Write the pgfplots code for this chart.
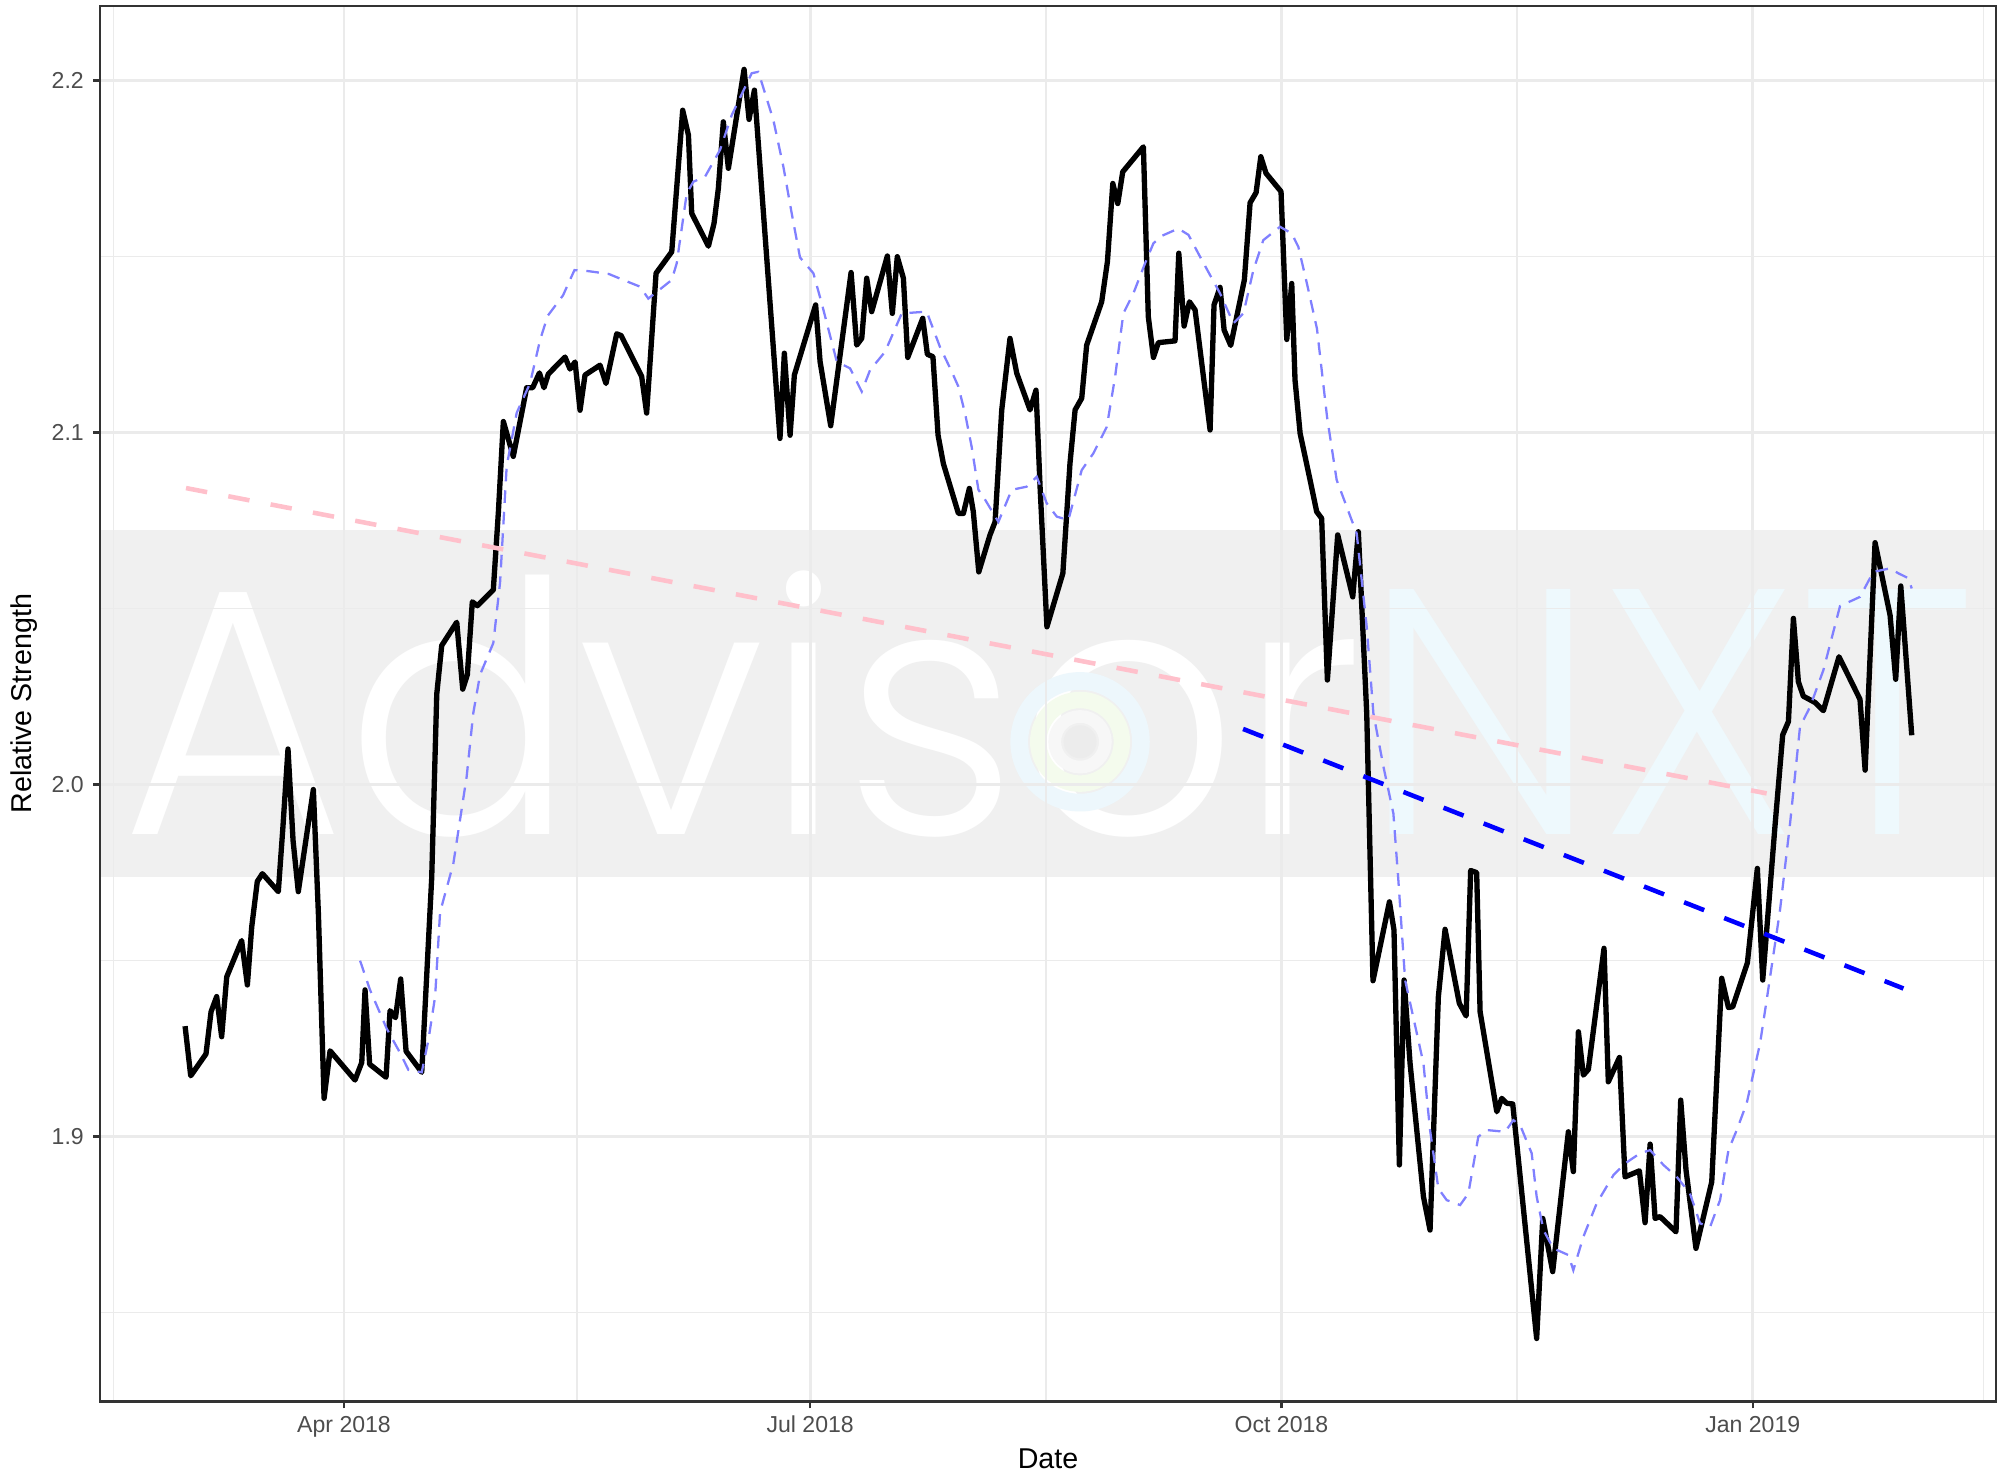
\documentclass[border=0pt]{standalone}
\usepackage{fontspec}
\setmainfont{Liberation Sans}
\IfFontExistsTF{Poppins Light}{\newfontfamily\wmfont{Poppins Light}}{\newfontfamily\wmfont{Liberation Sans}}
\usepackage{graphicx}
\usepackage{pgfplots}
\usepackage{pgfplotstable}
\pgfplotsset{compat=1.18}

\definecolor{grid92}{RGB}{235,235,235}
\definecolor{grey20}{RGB}{51,51,51}
\definecolor{grey30}{RGB}{77,77,77}
\definecolor{bandgray}{RGB}{240,240,240}
\definecolor{nxtcyan}{RGB}{238,249,253}
\definecolor{logocyan}{RGB}{237,247,252}
\definecolor{logogreen}{RGB}{244,251,237}
\definecolor{logogray}{RGB}{247,247,247}
\definecolor{logodot}{RGB}{236,236,236}
\definecolor{maBlue}{RGB}{128,128,255}
\definecolor{pinkc}{RGB}{255,192,203}

% Relative strength (x = days since 2018-01-01)
\pgfplotstableread{
d v
58.97 1.9314
60.07 1.9173
63.05 1.9235
64.04 1.9355
65.14 1.9398
66.11 1.9284
67.10 1.9454
70.01 1.9557
71.13 1.9431
71.98 1.9596
73.07 1.9725
74.06 1.9747
77.17 1.9696
78.04 1.9873
79.06 2.0101
80.05 1.9841
81.07 1.9696
84.01 1.9986
85.00 1.9631
86.10 1.9109
87.27 1.9244
92.14 1.9161
93.46 1.9211
94.10 1.9417
95.00 1.9206
98.20 1.9169
98.98 1.9358
100.04 1.9338
101.06 1.9448
102.11 1.9243
105.17 1.9183
107.11 1.9734
108.10 2.0257
109.07 2.0395
112.00 2.0461
113.17 2.0271
114.07 2.0312
115.04 2.0519
116.03 2.0508
119.14 2.0553
120.13 2.0774
121.10 2.1031
123.04 2.0932
125.65 2.1127
126.82 2.1127
128.14 2.1169
129.03 2.1127
129.88 2.1166
133.14 2.1214
134.11 2.1180
135.10 2.1200
136.07 2.1063
137.04 2.1163
139.97 2.1191
141.14 2.1139
143.23 2.1280
144.10 2.1275
148.10 2.1159
149.07 2.1055
150.91 2.1452
153.97 2.1513
156.11 2.1915
157.23 2.1844
157.87 2.1622
161.13 2.1529
162.23 2.1594
163.07 2.1693
164.04 2.1882
165.03 2.1750
168.09 2.2031
169.06 2.1889
170.11 2.1972
175.10 2.0983
175.95 2.1225
177.07 2.0992
177.91 2.1163
182.06 2.1362
182.93 2.1201
185.00 2.1019
188.98 2.1454
190.07 2.1248
191.06 2.1267
192.03 2.1438
193.00 2.1343
196.06 2.1501
197.03 2.1338
198.00 2.1499
199.19 2.1438
200.04 2.1213
202.97 2.1324
203.87 2.1222
204.96 2.1215
205.96 2.0992
207.00 2.0911
209.93 2.0770
210.90 2.0770
212.07 2.0841
212.84 2.0775
213.91 2.0604
216.10 2.0709
217.09 2.0746
218.39 2.1064
220.00 2.1267
221.32 2.1168
223.91 2.1064
225.08 2.1120
225.87 2.0846
227.21 2.0448
230.32 2.0600
231.71 2.0912
232.71 2.1064
234.00 2.1097
234.97 2.1248
237.90 2.1371
239.02 2.1485
240.07 2.1707
241.04 2.1650
242.01 2.1740
246.04 2.1811
247.00 2.1329
248.00 2.1213
248.97 2.1255
252.22 2.1260
252.95 2.1509
253.99 2.1302
255.03 2.1371
256.13 2.1348
259.06 2.1007
259.83 2.1362
261.00 2.1412
261.80 2.1291
263.09 2.1247
265.75 2.1433
266.87 2.1652
268.04 2.1681
268.96 2.1783
269.98 2.1736
272.91 2.1684
274.03 2.1264
275.00 2.1423
275.64 2.1149
276.64 2.0997
278.58 2.0865
279.87 2.0775
280.84 2.0756
281.96 2.0297
283.97 2.0709
286.91 2.0533
288.00 2.0718
289.64 2.0202
290.86 1.9443
294.07 1.9667
294.96 1.9587
296.01 1.8920
296.93 1.9445
298.10 1.9208
300.71 1.8830
302.00 1.8735
303.62 1.9397
304.93 1.9589
307.71 1.9379
309.04 1.9343
309.93 1.9756
311.10 1.9750
311.77 1.9355
315.03 1.9071
316.00 1.9109
316.97 1.9095
318.14 1.9093
322.81 1.8427
324.00 1.8768
325.94 1.8617
329.00 1.9014
329.97 1.8901
330.96 1.9298
331.93 1.9175
332.90 1.9191
335.96 1.9535
336.80 1.9156
338.97 1.9225
340.06 1.8886
342.87 1.8903
343.97 1.8756
344.96 1.8979
345.93 1.8768
346.90 1.8773
350.01 1.8730
350.93 1.9104
351.97 1.8905
353.91 1.8683
356.99 1.8872
358.93 1.9450
360.25 1.9367
361.09 1.9369
363.95 1.9494
365.89 1.9762
366.94 1.9445
369.35 1.9885
370.84 2.0141
371.96 2.0179
372.93 2.0472
373.90 2.0292
374.87 2.0251
377.16 2.0233
378.78 2.0210
381.83 2.0363
385.93 2.0242
386.93 2.0041
388.87 2.0687
391.80 2.0481
392.90 2.0299
393.89 2.0564
396.03 2.0140
}\rs

% Moving average
\pgfplotstableread{
d v
93.13 1.9500
95.07 1.9417
98.33 1.9307
100.94 1.9238
102.56 1.9190
105.17 1.9183
106.46 1.9274
107.78 1.9398
108.75 1.9638
111.33 1.9775
113.94 2.0023
115.23 2.0203
116.55 2.0312
119.14 2.0402
120.46 2.0574
121.75 2.0904
123.71 2.1056
126.30 2.1139
128.26 2.1262
129.75 2.1331
132.74 2.1389
134.98 2.1461
137.71 2.1458
141.69 2.1450
144.67 2.1432
147.78 2.1414
149.40 2.1380
153.97 2.1433
154.94 2.1480
156.90 2.1679
158.20 2.1712
160.46 2.1726
163.39 2.1802
165.68 2.1901
169.58 2.2020
170.88 2.2024
173.81 2.1887
175.77 2.1754
177.39 2.1622
179.01 2.1497
181.62 2.1452
183.26 2.1366
186.19 2.1201
188.78 2.1182
191.06 2.1116
192.68 2.1177
195.61 2.1229
198.87 2.1338
203.74 2.1343
206.35 2.1242
208.62 2.1173
209.93 2.1130
211.23 2.1054
212.52 2.0959
213.84 2.0837
214.81 2.0817
217.74 2.0746
220.33 2.0837
223.26 2.0846
225.23 2.0874
227.16 2.0799
229.13 2.0761
231.39 2.0751
234.00 2.0893
236.29 2.0941
238.90 2.1016
240.52 2.1158
242.13 2.1338
244.09 2.1395
246.36 2.1480
248.00 2.1537
249.61 2.1558
252.87 2.1579
254.84 2.1561
257.10 2.1499
261.00 2.1395
263.61 2.1310
265.57 2.1338
267.51 2.1461
269.45 2.1546
272.71 2.1584
275.00 2.1565
276.29 2.1527
277.93 2.1425
279.92 2.1295
281.91 2.1042
283.77 2.0865
287.68 2.0713
289.64 2.0448
290.94 2.0202
292.90 2.0051
294.84 1.9918
295.81 1.9729
297.13 1.9445
300.71 1.9208
302.00 1.9019
303.62 1.8853
305.25 1.8820
307.87 1.8806
309.48 1.8839
311.42 1.9000
313.06 1.9019
316.64 1.9014
318.26 1.9047
319.58 1.9033
321.84 1.8953
322.81 1.8830
324.13 1.8735
326.07 1.8683
329.00 1.8664
329.97 1.8621
331.93 1.8716
334.54 1.8811
337.80 1.8891
340.06 1.8924
343.00 1.8953
344.96 1.8962
347.55 1.8920
350.16 1.8886
352.74 1.8839
354.71 1.8754
356.67 1.8744
358.61 1.8820
360.25 1.8962
361.87 1.9019
363.81 1.9095
365.12 1.9180
366.42 1.9265
367.71 1.9388
370.32 1.9644
372.28 1.9890
374.22 2.0164
376.19 2.0221
378.78 2.0325
382.03 2.0507
385.93 2.0533
388.54 2.0604
391.80 2.0614
393.41 2.0600
395.38 2.0586
396.03 2.0557
}\ma

\pgfplotsset{
  base/.style={
    scale only axis, width=748.2pt, height=550.7pt,
    xmin=42.36, xmax=412.48, ymin=1.82481, ymax=2.2211,
    at={(0,0)}, anchor=south west,
  }
}

\begin{document}
\begin{tikzpicture}
% background: watermark band
\begin{axis}[base, hide axis, clip=false]
  \fill[bandgray] (axis cs:42.36,1.97385) rectangle (axis cs:412.48,2.0723);
  \node[anchor=base west, inner sep=0pt] at (axis cs:46.5,1.98589)
    {\resizebox{732pt}{104pt}{\wmfont\textcolor{white}{Advisor}\textcolor{nxtcyan}{NXT}}};
  \draw[logocyan, line width=7pt] (axis cs:233.68,2.01215) circle[radius=24pt];
  \draw[logogreen, line width=6.5pt] (axis cs:233.68,2.01215) circle[radius=16.5pt];
  \draw[logogray, line width=5pt] (axis cs:233.68,2.01215) circle[radius=10pt];
  \fill[logodot] (axis cs:233.68,2.01215) circle[radius=6.5pt];
\end{axis}
% main axis
\begin{axis}[base,
  axis line style={grey20, line width=1pt},
  tick style={grey20, line width=1pt},
  tick align=outside, tick pos=left,
  major tick length=2.75pt, minor tick length=0pt,
  xtick={90,181,273,365},
  xticklabels={Apr 2018,Jul 2018,Oct 2018,Jan 2019},
  minor xtick={45,135.5,227,319,410},
  ytick={1.9,2.0,2.1,2.2},
  yticklabels={1.9,2.0,2.1,2.2},
  minor ytick={1.85,1.95,2.05,2.15},
  grid=both,
  major grid style={grid92, line width=1.07pt},
  minor grid style={grid92, line width=0.53pt},
  xticklabel style={font=\fontsize{9.1}{10}\selectfont, text=grey30, inner sep=0pt, anchor=base, yshift=-9.55pt},
  yticklabel style={font=\fontsize{9.1}{10}\selectfont, text=grey30, inner sep=0pt, anchor=east, xshift=-3.45pt},
  xlabel={Date}, ylabel={Relative Strength},
  xlabel style={font=\fontsize{11.3}{13}\selectfont, at={(axis description cs:0.5,-0.0483)}, anchor=base, inner sep=0pt},
  ylabel style={font=\fontsize{11.3}{13}\selectfont, at={(axis description cs:-0.03635,0.5)}, anchor=base, inner sep=0pt, rotate=0},
]
  \addplot[black, line width=2.1pt, line join=round] table[x=d, y=v] {\rs};
  \addplot[maBlue, line width=0.9pt, dash pattern=on 5pt off 3.5pt] table[x=d, y=v] {\ma};
  \addplot[pinkc, line width=1.8pt, dash pattern=on 8.5pt off 8.5pt] coordinates {(59.15,2.0842) (367.71,1.9975)};
  \addplot[blue, line width=1.8pt, dash pattern=on 8.5pt off 8.5pt] coordinates {(265.50,2.0158) (394.41,1.9421)};
\end{axis}
\pgfresetboundingbox
\path ([shift={(-39.46pt,-29.0pt)}]current axis.south west) rectangle ([shift={(0.4pt,2.37pt)}]current axis.north east);
\end{tikzpicture}
\end{document}
